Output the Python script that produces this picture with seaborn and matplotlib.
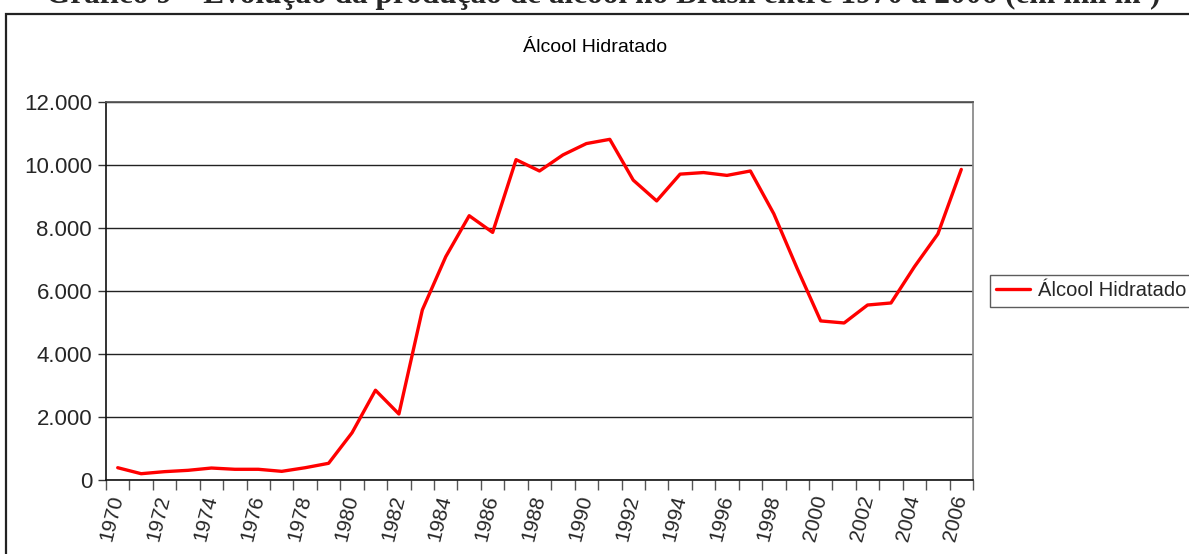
import numpy as np
import pandas as pd
import matplotlib
matplotlib.use("Agg")
import matplotlib.pyplot as plt
import matplotlib.ticker as mticker
from matplotlib.patches import Rectangle
import seaborn as sns

years = list(range(1970, 2007))
alcool_hidratado = [390, 200, 265, 307, 380, 340, 340, 275, 390, 530,
                    1500, 2850, 2095, 5400, 7090, 8390, 7860, 10170, 9810, 10320,
                    10680, 10815, 9520, 8860, 9710, 9760, 9670, 9810, 8450, 6710,
                    5050, 4985, 5555, 5620, 6770, 7810, 9860]
series_name = "Álcool Hidratado"
page_title = "Gráfico 9 – Evolução da produção de álcool no Brasil entre 1970 a 2006 (em mil m³)"
yticks = [0, 2000, 4000, 6000, 8000, 10000, 12000]

sns.set_theme(style="white")
plt.rcParams['font.family'] = ['Liberation Sans', 'DejaVu Sans']

df = pd.DataFrame({"idx": np.arange(len(years)), "valor": alcool_hidratado,
                   "serie": series_name})

W, H = 1189, 554
fig = plt.figure(figsize=(W / 100, H / 100), dpi=100)
ax = fig.add_axes([106 / W, 1 - 480 / H, (973 - 106) / W, (480 - 102) / H])

sns.lineplot(data=df, x="idx", y="valor", hue="serie", palette=["#ff0000"],
             linewidth=2.4, ax=ax, legend=True)

ax.set_xlim(-0.5, len(years) - 0.5)
ax.set_ylim(0, 12000)
ax.set_yticks(yticks)
ax.yaxis.set_major_formatter(mticker.FuncFormatter(lambda v, p: f"{int(v):,}".replace(",", ".")))
ax.tick_params(axis="y", which="major", length=6, width=1, color="#333333",
               labelsize=16, pad=4, left=True, direction="out")
ax.grid(axis="y", color="#222222", linewidth=1)

ax.set_xticks(np.arange(0, len(years), 2))
ax.set_xticklabels([str(y) for y in years[::2]], rotation=76, fontsize=15,
                   ha="right", va="center", rotation_mode="anchor")
ax.xaxis.set_minor_locator(mticker.FixedLocator(np.arange(-0.5, len(years), 1)))
ax.tick_params(axis="x", which="major", length=0, pad=11, bottom=True)
ax.tick_params(axis="x", which="minor", length=7, width=1, color="#555555",
               bottom=True, direction="out")
ax.set_xlabel("")
ax.set_ylabel("")

for s in ["left", "bottom"]:
    ax.spines[s].set_color("#111111")
    ax.spines[s].set_linewidth(1.2)
ax.spines["right"].set_color("#888888")
ax.spines["top"].set_color("#555555")
for s in ax.spines.values():
    s.set_visible(True)

fig.text(595 / W, 1 - 47 / H, series_name, ha="center", va="center",
         fontsize=14, color="black")

handles, labels = ax.get_legend_handles_labels()
ax.legend(handles, labels, loc="center left", bbox_to_anchor=(990 / W, 1 - 291 / H),
          bbox_transform=fig.transFigure, frameon=True, fancybox=False,
          edgecolor="#333333", fontsize=14.5, handlelength=1.7, handletextpad=0.4,
          borderpad=0.3, borderaxespad=0)

# outer chart frame
fig.patches.append(Rectangle((6 / W, -0.05), 1.2, 1 - 14 / H + 0.05,
                             transform=fig.transFigure, fill=False,
                             edgecolor="#222222", linewidth=1.6, clip_on=False))

fig.text(603 / W, 1 - 3 / H, page_title, ha="center", va="baseline",
         fontsize=22.5, fontweight="bold", family=["Liberation Serif", "DejaVu Serif"])

fig.savefig("out.png", dpi=100, facecolor="white")
